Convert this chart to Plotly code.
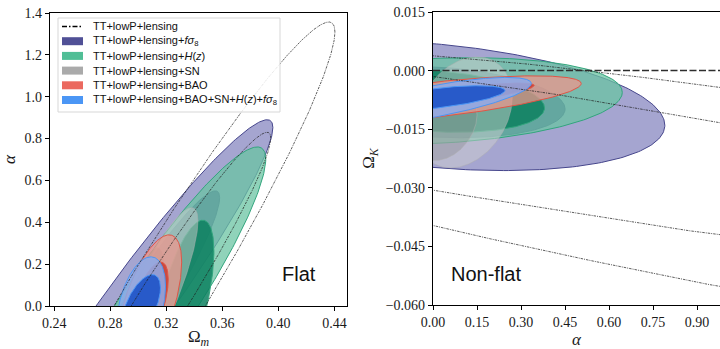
import numpy as np
import plotly.graph_objects as go

# ---------------------------------------------------------------------------
# Data combinations (legend order); index 0 is drawn as unfilled lines
labels = [
    "TT+lowP+lensing",
    "TT+lowP+lensing+<i>fσ</i><sub>8</sub>",
    "TT+lowP+lensing+<i>H</i>(<i>z</i>)",
    "TT+lowP+lensing+SN",
    "TT+lowP+lensing+BAO",
    "TT+lowP+lensing+BAO+SN+<i>H</i>(<i>z</i>)+<i>fσ</i><sub>8</sub>",
]

# Elliptical fits of the confidence contours.
# Each contour: centre (cx, cy), half extents (ax, ay) and correlation rho.
# Flat model, parameters (Omega_m, alpha)
flat95_cx = [0.315, 0.298, 0.313, 0.309, 0.3075, 0.302]
flat95_cy = [0.0, 0.0, 0.0, 0.0, 0.0, 0.0]
flat95_ax = [0.1254, 0.0981, 0.078, 0.0336, 0.0235, 0.01746]
flat95_ay = [1.357, 0.89, 0.76, 0.47, 0.34, 0.235]
flat95_rho = [0.965, 0.958, 0.923, 0.863, 0.617, 0.40]

flat68_cx = [0.315, 0.305, 0.332, 0.305, 0.3075, 0.302]
flat68_cy = [0.0, 0.0, 0.0, 0.0, 0.0, 0.0]
flat68_ax = [0.0796, 0.0531, 0.022, 0.014, 0.0139, 0.01385]
flat68_ay = [0.83, 0.55, 0.41, 0.28, 0.21, 0.15]
flat68_rho = [0.967, 0.941, 0.636, 0.60, 0.61, 0.578]

# Non-flat model, parameters (alpha, Omega_K)
nf95_cx = [2.0, 0.0, 0.0, 0.105, 0.0, 0.0]
nf95_cy = [-0.0423, -0.00895, -0.0078, -0.0107, -0.0075, -0.0079]
nf95_ax = [3.5, 0.79, 0.645, 0.165, 0.505, 0.335]
nf95_ay = [0.0505, 0.01664, 0.01112, 0.0142, 0.00616, 0.00616]
nf95_rho = [-0.849, -0.3035, 0.20, 0.273, 0.682, 0.747]

nf68_cx = [0.0, 0.0, 0.0, 0.04, 0.0, 0.0]
nf68_cy = [-0.01575, -0.0080, -0.0078, -0.0140, -0.0072, -0.00715]
nf68_ax = [4.0, 0.45, 0.38, 0.11, 0.345, 0.245]
nf68_ay = [0.0513, 0.00918, 0.0080, 0.0090, 0.0040, 0.00327]
nf68_rho = [-0.957, -0.20, -0.22, 0.30, 0.85, 0.627]

# Axis ticks
flat_xticks = [0.24, 0.28, 0.32, 0.36, 0.40, 0.44]
flat_yticks = [0.0, 0.2, 0.4, 0.6, 0.8, 1.0, 1.2, 1.4]
nf_xticks = [0.00, 0.15, 0.30, 0.45, 0.60, 0.75, 0.90]
nf_yticks = [0.015, 0.0, -0.015, -0.030, -0.045, -0.060]

# Styling per combination
legend_colors = ["black", "rgb(80,80,150)", "rgb(80,190,150)", "rgb(170,170,170)",
                 "rgb(235,105,95)", "rgb(75,150,245)"]
outer_fill = [None, "rgba(145,145,198,0.82)", "rgba(105,196,162,0.74)",
              "rgba(210,210,210,0.48)", "rgba(240,150,140,0.72)", "rgba(140,170,235,0.85)"]
inner_fill = [None, "rgba(70,70,145,0.85)", "rgba(12,128,95,0.85)",
              "rgba(120,120,120,0.28)", "rgba(200,45,35,0.75)", "rgba(30,85,200,0.92)"]
edge_color = ["black", "rgb(70,70,140)", "rgb(50,165,125)", "rgba(175,175,175,0.5)",
              "rgb(225,85,70)", "rgb(75,150,245)"]


def ellipse(cx, cy, ax, ay, rho, n=300):
    t = np.linspace(0.0, 2.0 * np.pi, n)
    x = cx + ax * np.cos(t)
    y = cy + ay * (rho * np.cos(t) + np.sqrt(1.0 - rho ** 2) * np.sin(t))
    return x, y


fig = go.Figure()

panels = [
    ("x", "y",
     (flat95_cx, flat95_cy, flat95_ax, flat95_ay, flat95_rho),
     (flat68_cx, flat68_cy, flat68_ax, flat68_ay, flat68_rho)),
    ("x2", "y2",
     (nf95_cx, nf95_cy, nf95_ax, nf95_ay, nf95_rho),
     (nf68_cx, nf68_cy, nf68_ax, nf68_ay, nf68_rho)),
]

for xa, ya, c95, c68 in panels:
    # filled contours: 95% region, then 68% region on top
    for i in range(1, len(labels)):
        for lvl, c in enumerate((c95, c68)):
            x, y = ellipse(*(arr[i] for arr in c))
            fig.add_trace(go.Scatter(
                x=x, y=y, xaxis=xa, yaxis=ya, mode="lines", fill="toself",
                fillcolor=outer_fill[i] if lvl == 0 else inner_fill[i],
                line=dict(color=edge_color[i], width=1),
                showlegend=False, hoverinfo="skip"))
    # CMB-only contours as lines over the fills
    for c in (c95, c68):
        x, y = ellipse(*(arr[0] for arr in c), n=1500)
        fig.add_trace(go.Scatter(
            x=x, y=y, xaxis=xa, yaxis=ya, mode="lines",
            line=dict(color="rgba(30,30,30,0.8)", width=0.9, dash="2.5px,1px,1px,1px"),
            showlegend=False, hoverinfo="skip"))

serif = "Liberation Serif, Times New Roman, serif"
sans = "Liberation Sans, Arial, sans-serif"
tick_font = dict(family=serif, size=14, color="#1a1a1a")
title_font = dict(family=serif, size=17, color="#1a1a1a")
axis_common = dict(showline=True, linecolor="black", linewidth=1.2, mirror=True,
                   ticks="outside", ticklen=4, tickwidth=1, tickcolor="black",
                   showgrid=False, zeroline=False, tickfont=tick_font, automargin=False)


def fmt(v, nd):
    s = f"{abs(v):.{nd}f}"
    return ("\u2212" + s) if v < 0 else s


W, H = 720, 349
fig.update_layout(
    template="none",
    width=W, height=H, margin=dict(l=0, r=0, t=0, b=0),
    paper_bgcolor="white", plot_bgcolor="white", showlegend=False,
    font=dict(family=serif),
    xaxis=dict(domain=[50 / W, 347 / W], range=[0.237, 0.449], tickvals=flat_xticks,
               ticktext=[fmt(v, 2) for v in flat_xticks], anchor="y",
               title=dict(text="Ω<sub><i>m</i></sub>", font=title_font, standoff=4), **axis_common),
    yaxis=dict(domain=[1 - 306 / H, 1 - 13 / H], range=[0, 1.4], tickvals=flat_yticks,
               ticktext=[fmt(v, 1) for v in flat_yticks], anchor="x",
               title=dict(text="<i>α</i>", font=title_font, standoff=12), **axis_common),
    xaxis2=dict(domain=[433 / W, 1.0], range=[0, 0.978], tickvals=nf_xticks,
                ticktext=[fmt(v, 2) for v in nf_xticks], anchor="y2",
                title=dict(text="<i>α</i>", font=title_font, standoff=4), **axis_common),
    yaxis2=dict(domain=[1 - 305 / H, 1 - 12 / H], range=[-0.060, 0.015], tickvals=nf_yticks,
                ticktext=[fmt(v, 3) for v in nf_yticks], anchor="x2",
                title=dict(text="Ω<sub><i>K</i></sub>", font=title_font, standoff=6), **axis_common),
)

# Omega_K = 0 reference line
fig.add_shape(type="line", xref="x2 domain", yref="y2", x0=0, x1=1, y0=0, y1=0,
              line=dict(color="rgb(45,45,45)", width=1.5, dash="7px,2.5px"), layer="above")

# Panel labels
fig.add_annotation(text="Flat", xref="x domain", yref="y domain", x=0.838, y=0.109,
                   xanchor="center", yanchor="middle", showarrow=False,
                   font=dict(family=sans, size=20, color="#111"))
fig.add_annotation(text="Non-flat", xref="x2 domain", yref="y2 domain", x=0.185, y=0.106,
                   xanchor="center", yanchor="middle", showarrow=False,
                   font=dict(family=sans, size=20, color="#111"))

# Legend box in the upper-left corner of the flat panel
fig.add_shape(type="rect", xref="paper", yref="paper", x0=58 / W, x1=280 / W,
              y0=1 - 112 / H, y1=1 - 18 / H, fillcolor="rgba(255,255,255,0.85)",
              line=dict(color="rgb(215,215,215)", width=1), layer="above")
row0, dy = 26.5, 14.7
for i, lab in enumerate(labels):
    yc = row0 + i * dy
    if i == 0:
        fig.add_shape(type="line", xref="paper", yref="paper", x0=62 / W, x1=83 / W,
                      y0=1 - yc / H, y1=1 - yc / H, layer="above",
                      line=dict(color="black", width=1.3, dash="5px,2px,1.5px,2px"))
    else:
        fig.add_shape(type="rect", xref="paper", yref="paper", x0=62 / W, x1=83 / W,
                      y0=1 - (yc + 4) / H, y1=1 - (yc - 4) / H, layer="above",
                      fillcolor=legend_colors[i], line=dict(width=0))
    fig.add_annotation(text=lab, xref="paper", yref="paper", x=91 / W, y=1 - yc / H,
                       xanchor="left", yanchor="middle", showarrow=False,
                       font=dict(family=sans, size=11, color="#111"))

fig.write_html("out.html")
